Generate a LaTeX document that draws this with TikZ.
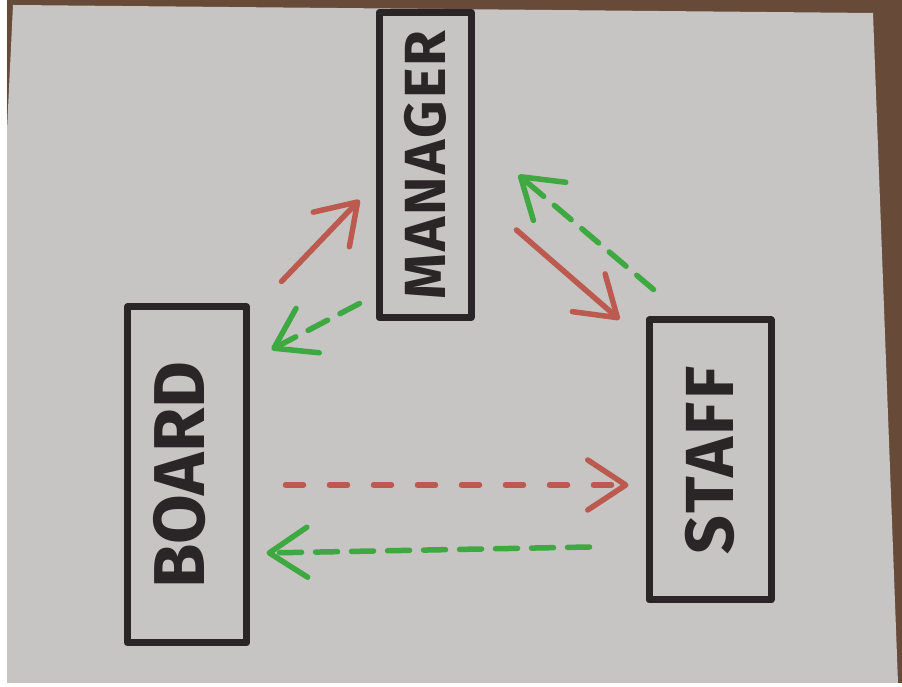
\documentclass[tikz,border=0pt]{standalone}
\usepackage{fontspec}
\setmainfont{Fira Sans}
\usetikzlibrary{arrows.meta,calc}
\definecolor{paper}{HTML}{C6C5C3}
\definecolor{tablebrown}{HTML}{674A38}
\definecolor{ink}{HTML}{2A2628}
\definecolor{mred}{HTML}{BC5A4F}
\definecolor{mgreen}{HTML}{3DA940}
\tikzset{
  box/.style={draw=ink, line width=7pt, line join=round, inner sep=0pt, text=ink},
  vtip/.style={-{Straight Barb[length=38pt,width=50pt,round]}},
  redsolid/.style={draw=mred, line width=5.5pt, line cap=round, vtip},
  reddash/.style={draw=mred, line width=5.5pt, line cap=round, dash pattern=on 18pt off 26pt, vtip},
  greendash/.style={draw=mgreen, line width=5.5pt, line cap=round, dash pattern=on 22pt off 14pt, vtip},
}
\begin{document}
\begin{tikzpicture}[x=1pt,y=1pt]
  % background: margin, table, paper
  \fill[white] (0,0) rectangle (902,687);
  \fill[tablebrown] (7,4) rectangle (902,687);
  \fill[paper] (7,4) -- (898,4) -- (873,674) -- (13,682) -- (7,557) -- cycle;
  \useasboundingbox (0,0) rectangle (902,687);

  % boxes
  \node[box, minimum width=92pt, minimum height=305pt] (manager) at (425,522)
    {\rotatebox{90}{\bfseries\fontsize{58}{58}\selectfont\addfontfeatures{LetterSpace=4} MANAGER}};
  \node[box, minimum width=119pt, minimum height=336pt] (board) at (187,212)
    {\hspace*{-14pt}\rotatebox{90}{\bfseries\fontsize{72}{72}\selectfont BOARD}};
  \node[box, minimum width=122pt, minimum height=280pt] (staff) at (710,227)
    {\rotatebox{90}{\bfseries\fontsize{68}{68}\selectfont\addfontfeatures{LetterSpace=4} STAFF}};

  % connectors
  \draw[redsolid] ([shift={(31.5,22)}]board.north east) -- ([shift={(-16,-35)}]manager.west);
  \draw[greendash] ([shift={(-16,17.5)}]manager.south west) -- ([shift={(21.5,-46)}]board.north east);
  \draw[redsolid] ([shift={(42,-65)}]manager.east) -- ([shift={(-26,-3)}]staff.north west);
  \draw[greendash] ([shift={(8,27)}]staff.north west) -- ([shift={(44,-10)}]manager.east);
  \draw[reddash] ([shift={(35.5,-10)}]board.east) -- ([shift={(-17,-25)}]staff.west);
  \draw[greendash] ([shift={(-56,-87)}]staff.west) -- ([shift={(16.5,-78)}]board.east);
\end{tikzpicture}
\end{document}
